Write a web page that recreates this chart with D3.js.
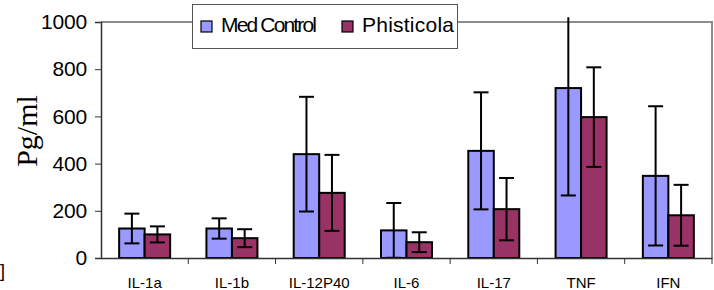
<!DOCTYPE html>
<html>
<head>
<meta charset="utf-8">
<script src="https://cdn.jsdelivr.net/npm/d3@7"></script>
<style>
  body { margin: 0; background: #fff; }
  svg { display: block; font-family: "Liberation Sans", Arial, sans-serif; }
</style>
</head>
<body>
<svg id="chart"></svg>
<script>
const categories = ["IL-1a", "IL-1b", "IL-12P40", "IL-6", "IL-17", "TNF", "IFN"];
const seriesNames = ["Med Control", "Phisticola"];
const medValues = [125, 125, 440, 117, 454, 720, 348];
const medErrors = [63, 43, 243, 116, 248, 455, 295];
const phiValues = [100, 84, 276, 67, 207, 597, 181];
const phiErrors = [34, 38, 161, 42, 132, 211, 129];
const yTicks = [0, 200, 400, 600, 800, 1000];
const colors = ["#9999ff", "#993366"];

let width = 714;
let height = 290;
let plotLeft = 101, plotRight = 712, plotTop = 22, plotBottom = 258;

let svg = d3.select('#chart').attr('width', width).attr('height', height);

let xScale = d3.scaleBand().domain(categories).range([plotLeft, plotRight]);
let inner = d3.scaleBand().domain(seriesNames).range([0, 51]);
let pad = (xScale.bandwidth() - 51) / 2;
let yScale = d3.scaleLinear().domain([0, 1000]).range([plotBottom, plotTop]);

// plot border (grey top/right)
svg.append('path')
   .attr('d', `M${plotLeft},${plotTop}H${plotRight}V${plotBottom}`)
   .attr('fill', 'none')
   .attr('stroke', '#8c8c8c')
   .attr('stroke-width', 2);

let rows = [];
categories.forEach((c, i) => {
    rows.push({cat: c, s: seriesNames[0], v: medValues[i], e: medErrors[i], col: colors[0]});
    rows.push({cat: c, s: seriesNames[1], v: phiValues[i], e: phiErrors[i], col: colors[1]});
});

svg.selectAll('rect.bar')
   .data(rows)
   .enter()
   .append('rect')
   .attr('class', 'bar')
   .attr('x', d => xScale(d.cat) + pad + inner(d.s))
   .attr('width', inner.bandwidth())
   .attr('y', d => yScale(d.v))
   .attr('height', d => plotBottom - yScale(d.v))
   .attr('fill', d => d.col)
   .attr('stroke', '#000')
   .attr('stroke-width', 2);

// error bars
let capW = 15;
let eb = svg.append('g').attr('stroke', '#000').attr('stroke-width', 2);
rows.forEach(d => {
    let cx = xScale(d.cat) + pad + inner(d.s) + inner.bandwidth() / 2;
    let hi = d.v + d.e, lo = Math.max(0, d.v - d.e);
    let clipped = hi > 1020;
    let yHi = yScale(Math.min(hi, 1020));
    eb.append('line').attr('x1', cx).attr('x2', cx).attr('y1', yHi).attr('y2', yScale(lo));
    if (!clipped) {
        eb.append('line').attr('x1', cx - capW / 2).attr('x2', cx + capW / 2).attr('y1', yHi).attr('y2', yHi);
    }
    if (d.v - d.e > 0) {
        eb.append('line').attr('x1', cx - capW / 2).attr('x2', cx + capW / 2).attr('y1', yScale(lo)).attr('y2', yScale(lo));
    }
});

// y axis
let yAxis = d3.axisLeft(yScale).tickValues(yTicks).tickSize(6).tickPadding(8).tickFormat(d3.format('d'));
let gy = svg.append('g').attr('transform', `translate(${plotLeft},0)`).call(yAxis);
gy.select('.domain').attr('stroke', '#333').attr('stroke-width', 1.5);
gy.selectAll('.tick line').attr('stroke', '#333');
gy.selectAll('text')
  .attr('font-size', 21)
  .attr('letter-spacing', -0.2)
  .attr('fill', '#000')
  .attr('font-family', '"Liberation Sans", Arial, sans-serif');

// x axis
let xAxis = d3.axisBottom(xScale).tickSize(0).tickPadding(19);
let gx = svg.append('g').attr('transform', `translate(0,${plotBottom})`).call(xAxis);
gx.select('.domain').attr('stroke', '#333').attr('stroke-width', 1.5);
gx.selectAll('text')
  .attr('font-size', 15)
  .attr('fill', '#000')
  .attr('font-family', '"Liberation Sans", Arial, sans-serif');
gx.selectAll('line.sep')
  .data(d3.range(1, categories.length + 1))
  .enter()
  .append('line')
  .attr('class', 'sep')
  .attr('x1', i => plotLeft + i * xScale.step())
  .attr('x2', i => plotLeft + i * xScale.step())
  .attr('y1', 0).attr('y2', 6)
  .attr('stroke', '#333');

// y label
svg.append('text')
   .attr('transform', 'translate(37,131) rotate(-90)')
   .attr('text-anchor', 'middle')
   .attr('font-family', '"Liberation Serif", "Times New Roman", serif')
   .attr('font-size', 30)
   .text('Pg/ml');

// stray bracket at bottom left
svg.append('text').attr('x', 0).attr('y', 277).attr('font-size', 18).text(']');

// legend
let lg = svg.append('g');
lg.append('rect')
  .attr('x', 192.5).attr('y', 4.5).attr('width', 265).attr('height', 44)
  .attr('fill', '#fff').attr('stroke', '#555').attr('stroke-width', 1);
let lx = [201, 342];
let lw = [96, 92];
seriesNames.forEach((n, i) => {
    lg.append('rect').attr('x', lx[i]).attr('y', 21).attr('width', 11).attr('height', 11)
      .attr('fill', colors[i]).attr('stroke', '#000').attr('stroke-width', 1.2);
    lg.append('text').attr('x', lx[i] + 20).attr('y', 32)
      .attr('font-size', 21)
      .attr('textLength', lw[i]).attr('lengthAdjust', 'spacing')
      .text(n);
});
</script>
</body>
</html>
